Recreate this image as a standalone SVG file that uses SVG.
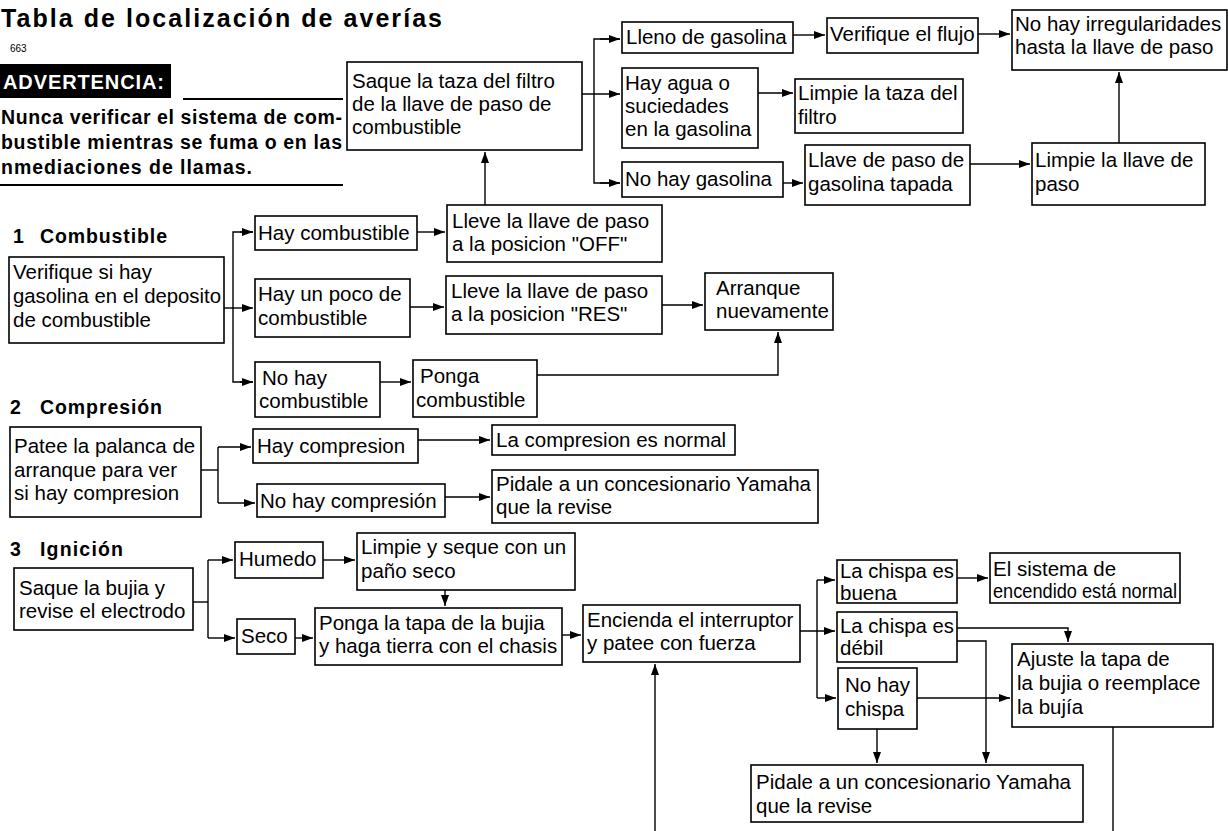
<svg xmlns="http://www.w3.org/2000/svg" width="1228" height="831" viewBox="0 0 1228 831">
<style>
text{font-family:"Liberation Sans",Arial,sans-serif;font-size:20.5px;fill:#000}
.b{font-weight:bold}
.box{fill:#fff;stroke:#000;stroke-width:1.6}
.c{fill:none;stroke:#000;stroke-width:1.4}
</style>
<defs>
<marker id="ah" markerUnits="userSpaceOnUse" markerWidth="11" markerHeight="8" refX="11" refY="4" orient="auto">
<path d="M0,0 L11,4 L0,8 z" fill="#000"/>
</marker>
</defs>
<rect width="1228" height="831" fill="#fff"/>

<g id="header">
<text class="b" x="1" y="27" textLength="441" lengthAdjust="spacing" style="font-size:25px">Tabla de localización de averías</text>
<text x="10" y="52" style="font-size:10px">663</text>
<rect x="0" y="64" width="171" height="34" fill="#000"/>
<text class="b" x="3" y="89" style="font-size:20px;fill:#fff" textLength="161" lengthAdjust="spacing">ADVERTENCIA:</text>
<line x1="183" y1="99" x2="343" y2="99" stroke="#000" stroke-width="2"/>
<text class="b" x="1" y="124" style="font-size:19.5px" textLength="341" lengthAdjust="spacing">Nunca verificar el sistema de com-</text>
<text class="b" x="1" y="149" style="font-size:19.5px" textLength="341" lengthAdjust="spacing">bustible mientras se fuma o en las</text>
<text class="b" x="1" y="174" style="font-size:19.5px" textLength="251" lengthAdjust="spacing">nmediaciones de llamas.</text>
<line x1="0" y1="185" x2="343" y2="185" stroke="#000" stroke-width="2"/>
<text class="b" x="13" y="243" style="font-size:19.5px">1</text>
<text class="b" x="40" y="243" style="font-size:19.5px" textLength="127" lengthAdjust="spacing">Combustible</text>
<text class="b" x="10" y="414" style="font-size:19.5px">2</text>
<text class="b" x="40" y="414" style="font-size:19.5px" textLength="122" lengthAdjust="spacing">Compresión</text>
<text class="b" x="10" y="556" style="font-size:19.5px">3</text>
<text class="b" x="40" y="556" style="font-size:19.5px" textLength="83" lengthAdjust="spacing">Ignición</text>
</g>

<g id="connectors">
<path class="c" d="M582,94 H620" marker-end="url(#ah)"/>
<path class="c" d="M620,39 H594 V183 H620"/>
<path class="c" d="M600,39 H620" marker-end="url(#ah)"/>
<path class="c" d="M600,183 H620" marker-end="url(#ah)"/>
<path class="c" d="M793,35 H825" marker-end="url(#ah)"/>
<path class="c" d="M978,34 H1010" marker-end="url(#ah)"/>
<path class="c" d="M758,93 H793" marker-end="url(#ah)"/>
<path class="c" d="M783,183 H803" marker-end="url(#ah)"/>
<path class="c" d="M970,164 H1030" marker-end="url(#ah)"/>
<path class="c" d="M1119,143 V72" marker-end="url(#ah)"/>
<path class="c" d="M485,205 V152" marker-end="url(#ah)"/>
<path class="c" d="M224,308 H253" marker-end="url(#ah)"/>
<path class="c" d="M253,232 H233 V382 H253"/>
<path class="c" d="M240,232 H253" marker-end="url(#ah)"/>
<path class="c" d="M240,382 H253" marker-end="url(#ah)"/>
<path class="c" d="M417,232 H445" marker-end="url(#ah)"/>
<path class="c" d="M410,307 H444" marker-end="url(#ah)"/>
<path class="c" d="M662,305 H703" marker-end="url(#ah)"/>
<path class="c" d="M380,382 H411" marker-end="url(#ah)"/>
<path class="c" d="M537,375 H778 V332" marker-end="url(#ah)"/>
<path class="c" d="M201,470 H218"/>
<path class="c" d="M218,447 V503"/>
<path class="c" d="M218,447 H251" marker-end="url(#ah)"/>
<path class="c" d="M218,503 H255" marker-end="url(#ah)"/>
<path class="c" d="M418,440 H490" marker-end="url(#ah)"/>
<path class="c" d="M445,497 H490" marker-end="url(#ah)"/>
<path class="c" d="M193,602 H208"/>
<path class="c" d="M208,560 V638"/>
<path class="c" d="M208,560 H233" marker-end="url(#ah)"/>
<path class="c" d="M208,638 H235" marker-end="url(#ah)"/>
<path class="c" d="M323,560 H355" marker-end="url(#ah)"/>
<path class="c" d="M445,590 V606" marker-end="url(#ah)"/>
<path class="c" d="M295,638 H313" marker-end="url(#ah)"/>
<path class="c" d="M562,635 H581" marker-end="url(#ah)"/>
<path class="c" d="M655,831 V664" marker-end="url(#ah)"/>
<path class="c" d="M800,631 H835" marker-end="url(#ah)"/>
<path class="c" d="M817,580 V698"/>
<path class="c" d="M817,580 H835" marker-end="url(#ah)"/>
<path class="c" d="M817,698 H836" marker-end="url(#ah)"/>
<path class="c" d="M957,578 H988" marker-end="url(#ah)"/>
<path class="c" d="M957,628 H1068 V642" marker-end="url(#ah)"/>
<path class="c" d="M957,641 H986 V763" marker-end="url(#ah)"/>
<path class="c" d="M917,698 H1010" marker-end="url(#ah)"/>
<path class="c" d="M877,729 V763" marker-end="url(#ah)"/>
<path class="c" d="M1113,727 V831"/>
</g>

<g id="n-saque-taza"><rect class="box" x="347" y="62" width="235" height="88"/>
<text x="352" y="88">Saque la taza del filtro</text><text x="352" y="111">de la llave de paso de</text><text x="352" y="134">combustible</text></g>
<g id="n-lleno"><rect class="box" x="622" y="22" width="171" height="31"/><text x="626" y="44">Lleno de gasolina</text></g>
<g id="n-verifique-flujo"><rect class="box" x="827" y="18" width="151" height="35"/><text x="830" y="41">Verifique el flujo</text></g>
<g id="n-no-irregularidades"><rect class="box" x="1012" y="10" width="215" height="60"/>
<text x="1015" y="31">No hay irregularidades</text><text x="1015" y="54">hasta la llave de paso</text></g>
<g id="n-hay-agua"><rect class="box" x="622" y="68" width="136" height="80"/>
<text x="625" y="90">Hay agua o</text><text x="625" y="113">suciedades</text><text x="625" y="136">en la gasolina</text></g>
<g id="n-limpie-taza"><rect class="box" x="795" y="79" width="168" height="54"/>
<text x="798" y="100">Limpie la taza del</text><text x="798" y="124">filtro</text></g>
<g id="n-no-gasolina"><rect class="box" x="622" y="162" width="161" height="35"/><text x="625" y="186">No hay gasolina</text></g>
<g id="n-llave-tapada"><rect class="box" x="805" y="145" width="165" height="60"/>
<text x="808" y="167">Llave de paso de</text><text x="808" y="191">gasolina tapada</text></g>
<g id="n-limpie-llave"><rect class="box" x="1032" y="143" width="173" height="62"/>
<text x="1035" y="167">Limpie la llave de</text><text x="1035" y="191">paso</text></g>

<g id="n-verifique-gas"><rect class="box" x="9" y="257" width="215" height="86"/>
<text x="13" y="279">Verifique si hay</text><text x="13" y="303" textLength="208" lengthAdjust="spacingAndGlyphs">gasolina en el deposito</text><text x="13" y="327">de combustible</text></g>
<g id="n-hay-comb"><rect class="box" x="255" y="216" width="162" height="34"/><text x="258" y="240">Hay combustible</text></g>
<g id="n-poco"><rect class="box" x="255" y="279" width="155" height="58"/>
<text x="258" y="301">Hay un poco de</text><text x="258" y="325">combustible</text></g>
<g id="n-no-comb"><rect class="box" x="255" y="362" width="125" height="55"/>
<text x="262" y="385">No hay</text><text x="259" y="408">combustible</text></g>
<g id="n-off"><rect class="box" x="447" y="205" width="215" height="57"/>
<text x="452" y="228">Lleve la llave de paso</text><text x="452" y="251">a la posicion "OFF"</text></g>
<g id="n-res"><rect class="box" x="446" y="276" width="216" height="58"/>
<text x="451" y="298">Lleve la llave de paso</text><text x="451" y="321">a la posicion "RES"</text></g>
<g id="n-arranque"><rect class="box" x="705" y="273" width="128" height="57"/>
<text x="716" y="295">Arranque</text><text x="716" y="318">nuevamente</text></g>
<g id="n-ponga-comb"><rect class="box" x="413" y="360" width="124" height="57"/>
<text x="420" y="383">Ponga</text><text x="416" y="407">combustible</text></g>

<g id="n-patee"><rect class="box" x="10" y="427" width="191" height="90"/>
<text x="14" y="453">Patee la palanca de</text><text x="14" y="477">arranque para ver</text><text x="14" y="500">si hay compresion</text></g>
<g id="n-hay-comp"><rect class="box" x="253" y="429" width="165" height="34"/><text x="257" y="453">Hay compresion</text></g>
<g id="n-no-comp"><rect class="box" x="257" y="484" width="188" height="33"/><text x="260" y="508">No hay compresión</text></g>
<g id="n-comp-normal"><rect class="box" x="492" y="425" width="243" height="30"/><text x="496" y="447">La compresion es normal</text></g>
<g id="n-pidale-1"><rect class="box" x="492" y="470" width="326" height="53"/>
<text x="496" y="491">Pidale a un concesionario Yamaha</text><text x="496" y="514">que la revise</text></g>

<g id="n-saque-bujia"><rect class="box" x="14" y="568" width="179" height="62"/>
<text x="19" y="595">Saque la bujia y</text><text x="19" y="618">revise el electrodo</text></g>
<g id="n-humedo"><rect class="box" x="235" y="542" width="88" height="36"/><text x="239" y="566">Humedo</text></g>
<g id="n-limpie-seque"><rect class="box" x="357" y="533" width="218" height="57"/>
<text x="361" y="554">Limpie y seque con un</text><text x="361" y="578">paño seco</text></g>
<g id="n-seco"><rect class="box" x="237" y="619" width="58" height="35"/><text x="241" y="643">Seco</text></g>
<g id="n-ponga-tapa"><rect class="box" x="315" y="608" width="247" height="57"/>
<text x="319" y="630">Ponga la tapa de la bujia</text><text x="319" y="653">y haga tierra con el chasis</text></g>
<g id="n-encienda"><rect class="box" x="583" y="605" width="217" height="57"/>
<text x="587" y="627">Encienda el interruptor</text><text x="587" y="650">y patee con fuerza</text></g>
<g id="n-buena"><rect class="box" x="837" y="560" width="120" height="43"/>
<text x="840" y="578" textLength="114" lengthAdjust="spacingAndGlyphs">La chispa es</text><text x="840" y="600">buena</text></g>
<g id="n-sistema-normal"><rect class="box" x="990" y="553" width="190" height="50"/>
<text x="993" y="576">El sistema de</text><text x="993" y="598" textLength="184" lengthAdjust="spacingAndGlyphs">encendido está normal</text></g>
<g id="n-debil"><rect class="box" x="837" y="612" width="120" height="50"/>
<text x="840" y="633" textLength="114" lengthAdjust="spacingAndGlyphs">La chispa es</text><text x="840" y="655">débil</text></g>
<g id="n-ajuste"><rect class="box" x="1012" y="644" width="201" height="83"/>
<text x="1017" y="666">Ajuste la tapa de</text><text x="1017" y="690">la bujia o reemplace</text><text x="1017" y="714">la bujía</text></g>
<g id="n-no-chispa"><rect class="box" x="838" y="668" width="79" height="61"/>
<text x="845" y="692">No hay</text><text x="845" y="716">chispa</text></g>
<g id="n-pidale-2"><rect class="box" x="751" y="765" width="332" height="57"/>
<text x="756" y="789">Pidale a un concesionario Yamaha</text><text x="756" y="813">que la revise</text></g>
</svg>
